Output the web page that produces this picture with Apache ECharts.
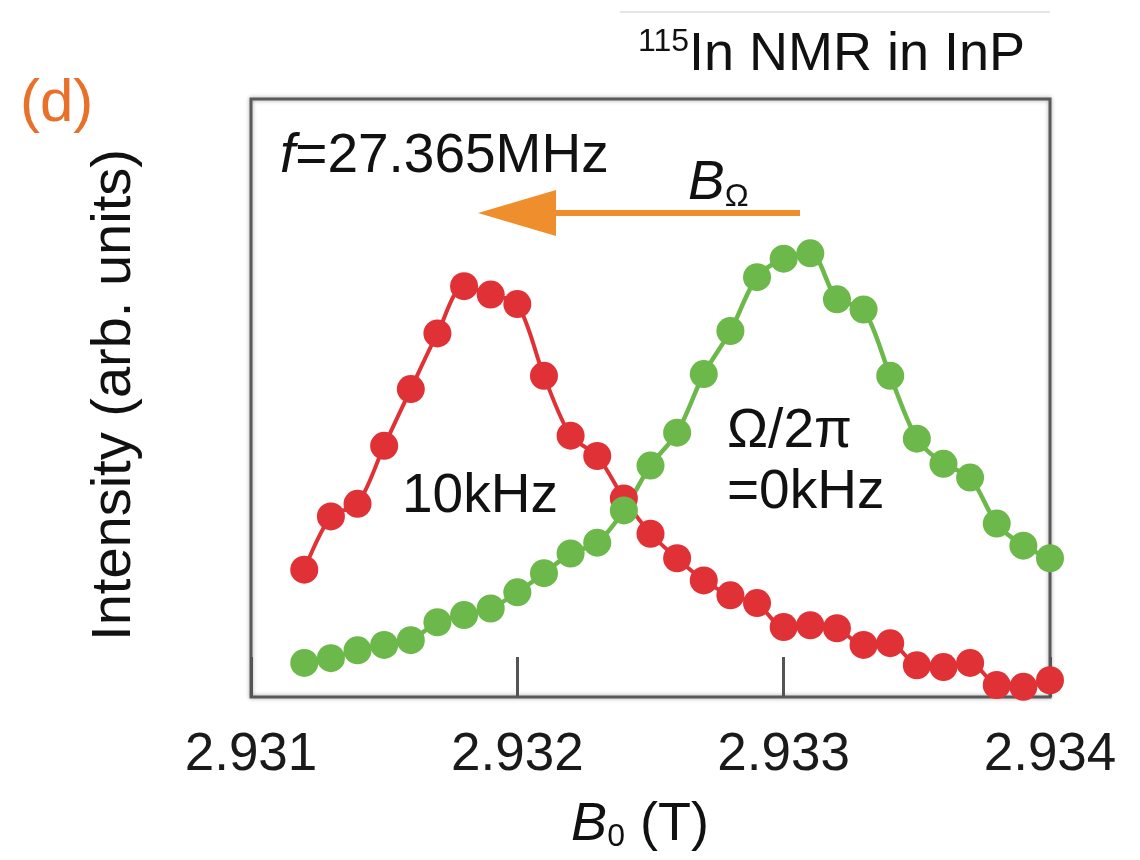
<!DOCTYPE html>
<html>
<head>
    <title>115In NMR in InP</title>
    <script src="https://cdn.jsdelivr.net/npm/echarts@6.0.0/dist/echarts.min.js"></script>
    <style>
        html, body { margin: 0; padding: 0; background: #fff; }
        #chart { width: 1140px; height: 860px; }
    </style>
</head>
<body>
    <div id="chart"></div>
    <script>
        // 磁场 B0 (T)
        var fieldB0 = [2.9312, 2.9313, 2.9314, 2.9315, 2.9316, 2.9317, 2.9318, 2.9319, 2.9320, 2.9321,
                       2.9322, 2.9323, 2.9324, 2.9325, 2.9326, 2.9327, 2.9328, 2.9329, 2.9330, 2.9331,
                       2.9332, 2.9333, 2.9334, 2.9335, 2.9336, 2.9337, 2.9338, 2.9339, 2.9340];
        // Ω/2π = 10kHz (red)
        var red10k = [21.3, 30.2, 32.3, 42.0, 51.5, 60.8, 68.7, 67.3, 65.7, 53.7,
                      43.7, 40.3, 33.2, 27.3, 23.2, 19.5, 17.0, 15.7, 11.7, 12.0,
                      11.5, 8.7, 9.0, 5.3, 5.0, 5.7, 2.0, 1.7, 2.8];
        // Ω/2π = 0kHz (green)
        var green0k = [5.7, 6.5, 7.8, 8.7, 9.5, 12.5, 13.7, 14.8, 17.5, 20.7,
                       24.0, 25.8, 31.2, 38.7, 44.2, 54.0, 61.2, 70.2, 73.3, 74.2,
                       66.5, 64.8, 53.7, 43.2, 39.0, 36.7, 29.0, 25.3, 23.2];
        var xTicks = [2.931, 2.932, 2.933, 2.934];

        function pairs(ys) {
            return fieldB0.map(function (x, i) { return [x, ys[i]]; });
        }

        var font = '"Liberation Sans", Arial, sans-serif';
        var chart = echarts.init(document.getElementById('chart'));

        var option = {
            animation: false,
            grid: {
                left: 251, right: 90, top: 99, bottom: 163,
                show: true, borderColor: '#5a5a5a', borderWidth: 3,
                shadowColor: 'rgba(0,0,0,0.35)', shadowBlur: 4
            },
            xAxis: {
                type: 'value',
                min: 2.931, max: 2.934, interval: 0.001,
                axisLine: { show: false },
                axisTick: { show: true, inside: true, length: 40, lineStyle: { color: '#555', width: 3 } },
                splitLine: { show: false },
                axisLabel: {
                    margin: 32, fontSize: 53, color: '#1a1a1a', fontFamily: font,
                    formatter: function (v) {
                        for (var i = 0; i < xTicks.length; i++) {
                            if (Math.abs(v - xTicks[i]) < 1e-7) return xTicks[i].toFixed(3);
                        }
                        return '';
                    }
                }
            },
            yAxis: {
                type: 'value', min: 0, max: 100,
                axisLine: { show: false }, axisTick: { show: false },
                axisLabel: { show: false }, splitLine: { show: false }
            },
            series: [
                {
                    name: '10kHz', type: 'line', data: pairs(red10k), smooth: 0.3,
                    symbol: 'circle', symbolSize: 28,
                    itemStyle: { color: '#e03236' },
                    lineStyle: { color: '#e03236', width: 4 }
                },
                {
                    name: '0kHz', type: 'line', data: pairs(green0k), smooth: 0.3,
                    symbol: 'circle', symbolSize: 28,
                    itemStyle: { color: '#6cb84a' },
                    lineStyle: { color: '#6cb84a', width: 4.5 }
                }
            ],
            graphic: [
                { type: 'line', shape: { x1: 620, y1: 12, x2: 1050, y2: 12 }, style: { stroke: '#ccc', lineWidth: 1 } },
                {
                    type: 'text', x: 638, y: 84,
                    style: {
                        text: '{s|115}{n|In NMR in InP}', fill: '#111', textVerticalAlign: 'bottom',
                        rich: {
                            s: { fontSize: 32, fontFamily: font, verticalAlign: 'top', padding: [0, 0, 26, 0] },
                            n: { fontSize: 54, fontFamily: font }
                        }
                    }
                },
                { type: 'text', x: 20, y: 104, style: { text: '(d)', font: '60px ' + font, fill: '#e8702a', textVerticalAlign: 'middle' } },
                {
                    type: 'text', x: 280, y: 157,
                    style: {
                        text: '{i|f}{n|=27.365MHz}', fill: '#111', textVerticalAlign: 'middle',
                        rich: {
                            i: { fontSize: 55, fontFamily: font, fontStyle: 'italic' },
                            n: { fontSize: 55, fontFamily: font }
                        }
                    }
                },
                {
                    type: 'text', x: 688, y: 184,
                    style: {
                        text: '{i|B}{s|Ω}', fill: '#111', textVerticalAlign: 'middle',
                        rich: {
                            i: { fontSize: 55, fontFamily: font, fontStyle: 'italic' },
                            s: { fontSize: 32, fontFamily: font, padding: [26, 0, 0, 0] }
                        }
                    }
                },
                { type: 'line', shape: { x1: 800, y1: 213, x2: 550, y2: 213 }, style: { stroke: '#ef8e2c', lineWidth: 6 } },
                { type: 'polygon', shape: { points: [[478, 213], [556, 190], [556, 236]] }, style: { fill: '#ef8e2c' } },
                { type: 'text', x: 402, y: 497, style: { text: '10kHz', font: '55px ' + font, fill: '#111', textVerticalAlign: 'middle' } },
                { type: 'text', x: 727, y: 432, style: { text: 'Ω/2π', font: '55px ' + font, fill: '#111', textVerticalAlign: 'middle' } },
                { type: 'text', x: 727, y: 493, style: { text: '=0kHz', font: '55px ' + font, fill: '#111', textVerticalAlign: 'middle' } },
                {
                    type: 'text', x: 115, y: 395, rotation: Math.PI / 2,
                    style: { text: 'Intensity (arb. units)', font: '56px ' + font, fill: '#111', textAlign: 'center', textVerticalAlign: 'middle' }
                },
                {
                    type: 'text', x: 640, y: 825,
                    style: {
                        text: '{i|B}{s|0}{n| (T)}', fill: '#111', textAlign: 'center', textVerticalAlign: 'middle',
                        rich: {
                            i: { fontSize: 54, fontFamily: font, fontStyle: 'italic' },
                            s: { fontSize: 32, fontFamily: font, padding: [24, 0, 0, 0] },
                            n: { fontSize: 54, fontFamily: font }
                        }
                    }
                }
            ]
        };
        chart.setOption(option);
    </script>
</body>
</html>
